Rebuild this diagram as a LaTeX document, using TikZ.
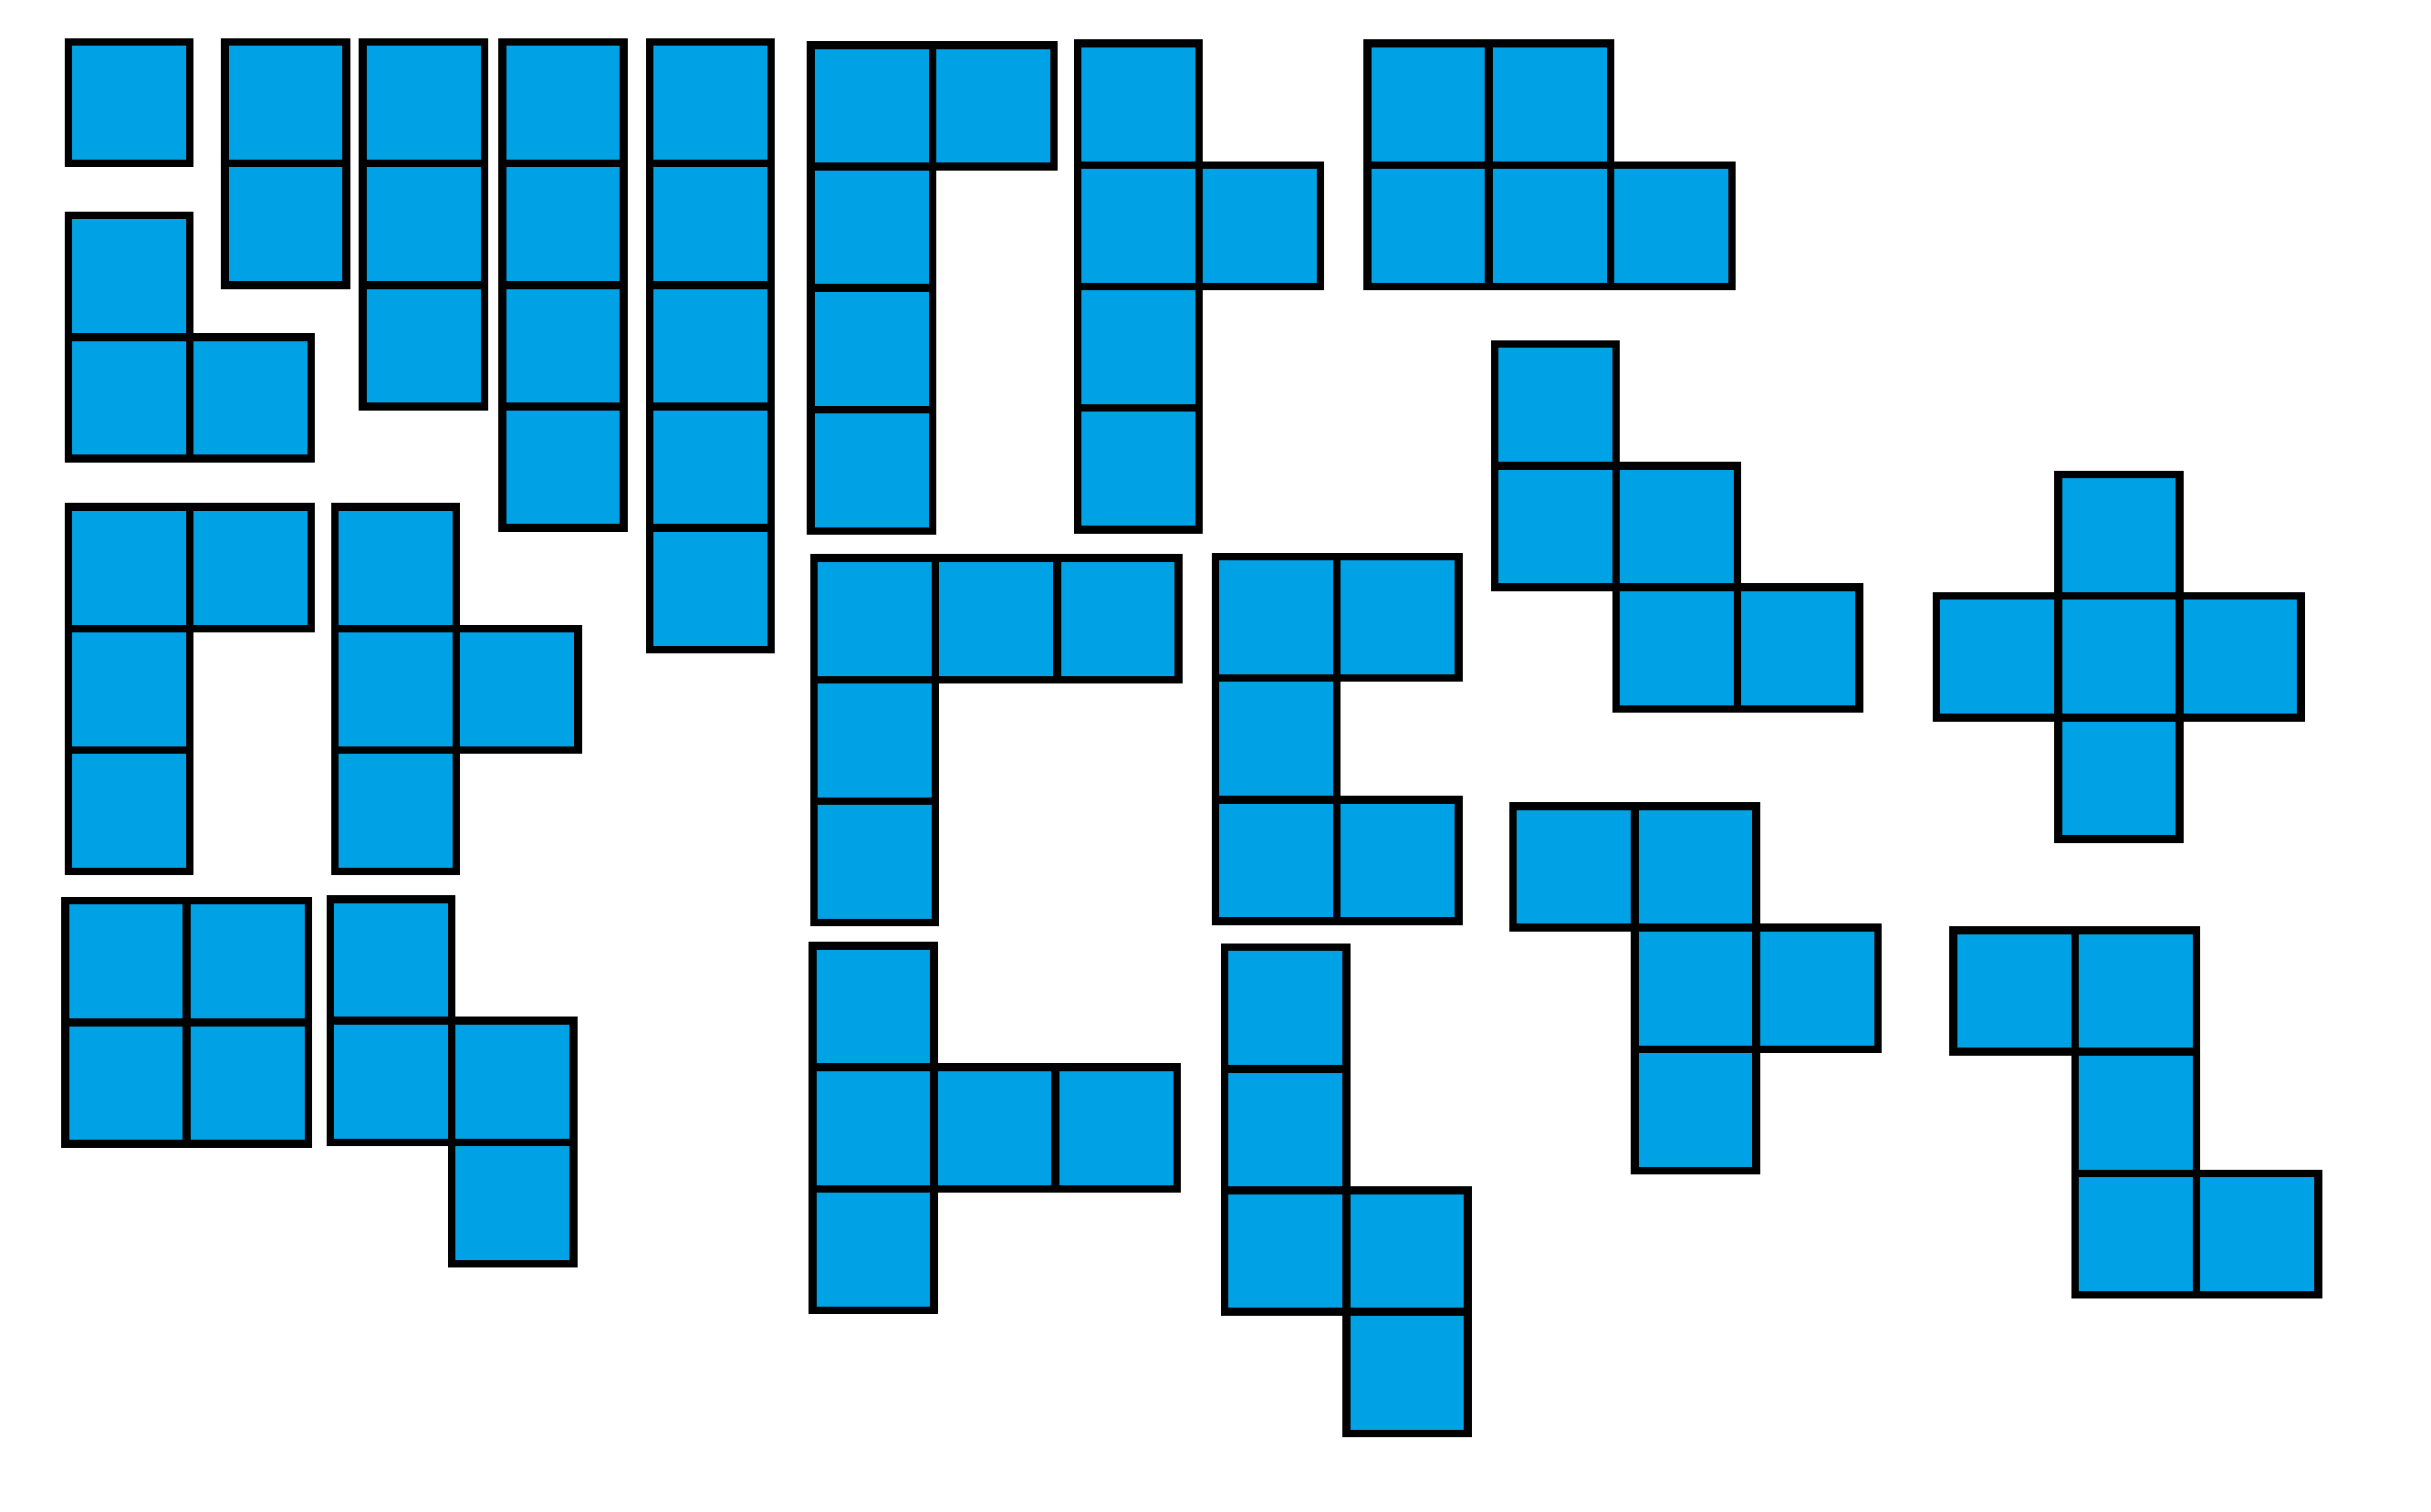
\documentclass[tikz,border=0pt]{standalone}
\definecolor{tileblue}{RGB}{0,162,230}
\tikzset{cellsq/.style={fill=tileblue,draw=black,line width=5pt,line join=miter}}
\newcommand\polyo[3]{\begin{scope}[shift={(#1,#2)}]\foreach \i/\j in {#3} {\draw[cellsq] (\i*78.4,\j*78.4) rectangle ++(78.4,78.4);}\end{scope}}
\begin{document}
\begin{tikzpicture}[x=1pt,y=-1pt]
\useasboundingbox (0,0) rectangle (1568,975);
\polyo{44}{27}{0/0}
\polyo{145}{27}{0/0,0/1}
\polyo{234}{27}{0/0,0/1,0/2}
\polyo{324}{27}{0/0,0/1,0/2,0/3}
\polyo{419}{27}{0/0,0/1,0/2,0/3,0/4}
\polyo{44}{139}{0/0,0/1,1/1}
\polyo{523}{29}{0/0,1/0,0/1,0/2,0/3}
\polyo{695}{28}{0/0,0/1,0/2,0/3,1/1}
\polyo{882}{28}{0/0,1/0,0/1,1/1,2/1}
\polyo{44}{327}{0/0,1/0,0/1,0/2}
\polyo{216}{327}{0/0,0/1,0/2,1/1}
\polyo{525}{360}{0/0,1/0,2/0,0/1,0/2}
\polyo{784}{359}{0/0,1/0,0/1,0/2,1/2}
\polyo{964}{222}{0/0,0/1,1/1,1/2,2/2}
\polyo{1249}{306}{1/0,0/1,1/1,2/1,1/2}
\polyo{42}{581}{0/0,1/0,0/1,1/1}
\polyo{213}{580}{0/0,0/1,1/1,1/2}
\polyo{524}{610}{0/0,0/1,0/2,1/1,2/1}
\polyo{790}{611}{0/0,0/1,0/2,1/2,1/3}
\polyo{976}{520}{0/0,1/0,1/1,2/1,1/2}
\polyo{1260}{600}{0/0,1/0,1/1,1/2,2/2}
\end{tikzpicture}
\end{document}
